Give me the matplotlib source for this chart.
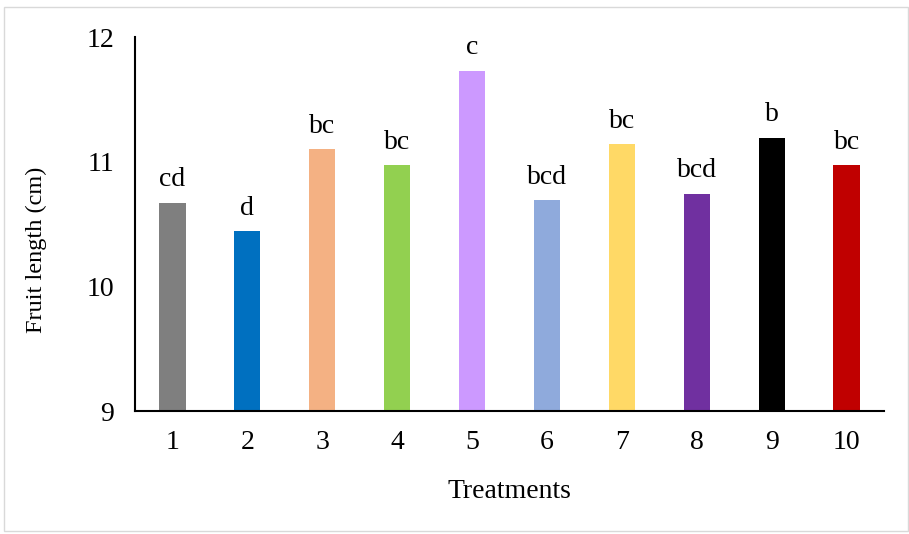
import matplotlib.pyplot as plt
from matplotlib.patches import Rectangle

treatments = ["1", "2", "3", "4", "5", "6", "7", "8", "9", "10"]
fruit_length = [10.67, 10.44, 11.10, 10.97, 11.73, 10.69, 11.14, 10.74, 11.19, 10.97]
letters = ["cd", "d", "bc", "bc", "c", "bcd", "bc", "bcd", "b", "bc"]
colors = ["#7f7f7f", "#0070c0", "#f4b183", "#92d050", "#cc99ff",
          "#8faadc", "#ffd966", "#7030a0", "#000000", "#c00000"]

plt.rcParams["font.family"] = ["Liberation Serif", "DejaVu Serif"]

fig = plt.figure(figsize=(9.09, 5.34), dpi=100)
ax = fig.add_axes([0.1485, 0.2303, 0.824, 0.7004])

x = range(len(treatments))
ax.bar(x, fruit_length, width=0.35, color=colors, bottom=0)
for i, (v, lab) in enumerate(zip(fruit_length, letters)):
    ax.annotate(lab, xy=(i, v), xytext=(0, 12), textcoords="offset points",
                ha="center", va="baseline", fontsize=20)

ax.set_ylim(9, 12)
ax.set_xlim(-0.5, 9.5)
ax.set_yticks([9, 10, 11, 12])
ax.set_xticks(list(x))
ax.set_xticklabels(treatments)
ax.tick_params(length=0, labelsize=20)
ax.tick_params(axis="x", pad=14)
ax.tick_params(axis="y", pad=15)
ax.set_xlabel("Treatments", fontsize=20, labelpad=17)
ax.set_ylabel("Fruit length (cm)", fontsize=17.5)
ax.yaxis.set_label_coords(-0.118, 0.43)

for s in ["top", "right"]:
    ax.spines[s].set_visible(False)
for s in ["left", "bottom"]:
    ax.spines[s].set_linewidth(1.5)

# light grey frame around the chart
fig.patches.append(Rectangle((0.004, 0.005), 0.995, 0.982, transform=fig.transFigure,
                             fill=False, edgecolor="#d9d9d9", linewidth=1))

fig.savefig("out.png", dpi=100)
